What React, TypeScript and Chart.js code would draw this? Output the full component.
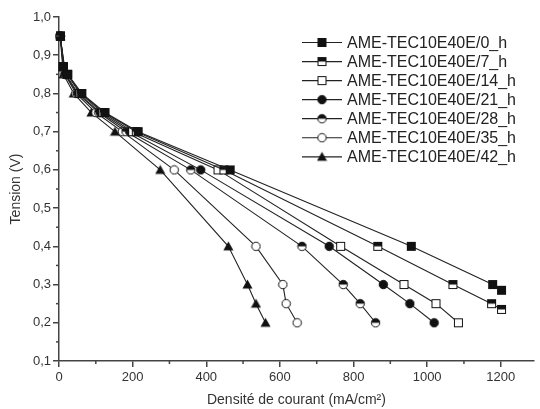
import React, { useEffect, useRef } from 'react';
import { Chart, registerables } from 'chart.js';

Chart.register(...registerables);

const FONT = '"Liberation Sans", Arial, Helvetica, sans-serif';

const seriesLabels = [
  'AME-TEC10E40E/0_h',
  'AME-TEC10E40E/7_h',
  'AME-TEC10E40E/14_h',
  'AME-TEC10E40E/21_h',
  'AME-TEC10E40E/28_h',
  'AME-TEC10E40E/35_h',
  'AME-TEC10E40E/42_h',
];

// Tension (V) and current density (mA/cm²) per series
const tension0 = [0.95, 0.87, 0.85, 0.8, 0.75, 0.7, 0.6, 0.4, 0.3, 0.285];
const current0 = [4, 12, 24, 62, 125, 215, 465, 957, 1178, 1202];

const tension7 = [0.95, 0.87, 0.85, 0.8, 0.75, 0.7, 0.6, 0.4, 0.3, 0.25, 0.235];
const current7 = [4, 12, 23, 60, 122, 210, 448, 866, 1070, 1175, 1202];

const tension14 = [0.95, 0.87, 0.85, 0.8, 0.75, 0.7, 0.6, 0.4, 0.3, 0.25, 0.2];
const current14 = [4, 11, 22, 57, 118, 200, 432, 765, 937, 1024, 1085];

const tension21 = [0.95, 0.85, 0.8, 0.75, 0.7, 0.6, 0.4, 0.3, 0.25, 0.2];
const current21 = [3, 18, 52, 112, 192, 385, 734, 881, 953, 1019];

const tension28 = [0.95, 0.85, 0.8, 0.75, 0.7, 0.6, 0.4, 0.3, 0.25, 0.2];
const current28 = [3, 17, 50, 108, 182, 358, 660, 772, 818, 860];

const tension35 = [0.95, 0.85, 0.8, 0.75, 0.7, 0.6, 0.4, 0.3, 0.25, 0.2];
const current35 = [3, 16, 46, 100, 172, 313, 535, 608, 617, 647];

const tension42 = [0.95, 0.85, 0.8, 0.75, 0.7, 0.6, 0.4, 0.3, 0.25, 0.2];
const current42 = [3, 12, 40, 88, 152, 275, 460, 512, 535, 561];

const seriesCurrents = [current0, current7, current14, current21, current28, current35, current42];
const seriesTensions = [tension0, tension7, tension14, tension21, tension28, tension35, tension42];

type MarkerKind = 'sqFill' | 'sqHalf' | 'sqOpen' | 'ciFill' | 'ciHalf' | 'ciOpen' | 'triFill';
const markerKinds: MarkerKind[] = ['sqFill', 'sqHalf', 'sqOpen', 'ciFill', 'ciHalf', 'ciOpen', 'triFill'];

const INK = '#111';

function makeMarker(kind: MarkerKind): HTMLCanvasElement {
  const size = 11;
  const c = document.createElement('canvas');
  c.width = size;
  c.height = size;
  const ctx = c.getContext('2d') as CanvasRenderingContext2D;
  const cx = size / 2;
  const cy = size / 2;
  ctx.lineWidth = 1;
  ctx.strokeStyle = INK;
  if (kind.startsWith('sq')) {
    const s = 8;
    const x0 = cx - s / 2;
    const y0 = cy - s / 2;
    ctx.fillStyle = '#fff';
    ctx.fillRect(x0, y0, s, s);
    ctx.fillStyle = INK;
    if (kind === 'sqFill') ctx.fillRect(x0, y0, s, s);
    if (kind === 'sqHalf') ctx.fillRect(x0, y0, s, s / 2);
    ctx.strokeRect(x0, y0, s, s);
  } else if (kind.startsWith('ci')) {
    const r = 4.2;
    ctx.beginPath();
    ctx.arc(cx, cy, r, 0, Math.PI * 2);
    ctx.fillStyle = kind === 'ciFill' ? INK : '#fff';
    ctx.fill();
    if (kind === 'ciHalf') {
      ctx.beginPath();
      ctx.arc(cx, cy, r, Math.PI, Math.PI * 2);
      ctx.closePath();
      ctx.fillStyle = INK;
      ctx.fill();
    }
    ctx.beginPath();
    ctx.arc(cx, cy, r, 0, Math.PI * 2);
    ctx.stroke();
  } else {
    ctx.beginPath();
    ctx.moveTo(cx, cy - 5);
    ctx.lineTo(cx + 5, cy + 4);
    ctx.lineTo(cx - 5, cy + 4);
    ctx.closePath();
    ctx.fillStyle = INK;
    ctx.fill();
  }
  return c;
}

export default function App() {
  const canvasRef = useRef<HTMLCanvasElement | null>(null);

  useEffect(() => {
    if (!canvasRef.current) return;
    const markers = markerKinds.map((k) => makeMarker(k));

    const datasets = seriesLabels.map((label, i) => ({
      label,
      data: seriesCurrents[i].map((x, j) => ({ x, y: seriesTensions[i][j] })),
      borderColor: '#222',
      borderWidth: 1.1,
      pointStyle: markers[i] as any,
      pointRadius: 5,
      tension: 0,
      fill: false,
      clip: false as any,
    }));

    const minorTicks = {
      id: 'minorTicks',
      afterDraw(chart: any) {
        const { ctx, chartArea } = chart;
        const xs = chart.scales.x;
        const ys = chart.scales.y;
        ctx.save();
        ctx.strokeStyle = '#444';
        ctx.lineWidth = 1.5;
        for (let v = 100; v <= 1200; v += 200) {
          const px = xs.getPixelForValue(v);
          ctx.beginPath();
          ctx.moveTo(px, chartArea.bottom);
          ctx.lineTo(px, chartArea.bottom + 3);
          ctx.stroke();
        }
        for (let k = 1; k <= 9; k++) {
          const v = 0.05 + k * 0.1;
          const py = ys.getPixelForValue(v);
          ctx.beginPath();
          ctx.moveTo(chartArea.left, py);
          ctx.lineTo(chartArea.left - 3, py);
          ctx.stroke();
        }
        ctx.restore();
      },
    };

    const customLegend = {
      id: 'customLegend',
      afterDraw(chart: any) {
        const { ctx } = chart;
        ctx.save();
        ctx.font = `16px ${FONT}`;
        ctx.textBaseline = 'middle';
        ctx.textAlign = 'left';
        seriesLabels.forEach((label, i) => {
          const y = 42.5 + i * 19.05;
          ctx.strokeStyle = '#222';
          ctx.lineWidth = 1.2;
          ctx.beginPath();
          ctx.moveTo(302, y);
          ctx.lineTo(342, y);
          ctx.stroke();
          ctx.drawImage(markers[i], 322 - 5.5, y - 5.5);
          ctx.fillStyle = '#222';
          ctx.fillText(label, 347, y + 1);
        });
        ctx.restore();
      },
    };

    const chart = new Chart(canvasRef.current, {
      type: 'line',
      data: { datasets: datasets as any },
      plugins: [minorTicks, customLegend],
      options: {
        animation: false,
        responsive: true,
        maintainAspectRatio: false,
        layout: { padding: { top: 17, right: 0, bottom: 0, left: 0 } },
        plugins: {
          legend: { display: false },
          tooltip: { enabled: false },
        },
        scales: {
          x: {
            type: 'linear',
            min: 0,
            max: 1290,
            ticks: {
              stepSize: 200,
              includeBounds: false,
              padding: 3,
              color: '#333',
              font: { size: 13, family: FONT },
              maxRotation: 0,
              autoSkip: false,
              callback: (v: any) => String(Math.round(Number(v))),
            },
            grid: {
              drawOnChartArea: false,
              drawTicks: true,
              tickLength: 6,
              color: '#444',
              lineWidth: 1.5,
            },
            border: { display: true, color: '#444', width: 1.5 },
            title: {
              display: true,
              text: 'Densité de courant (mA/cm²)',
              color: '#333',
              font: { size: 14, family: FONT },
              padding: { top: 0, bottom: 0 },
            },
            afterFit(scale: any) {
              scale.height = 48;
            },
          },
          y: {
            type: 'linear',
            min: 0.1,
            max: 1.0,
            ticks: {
              stepSize: 0.1,
              padding: 2,
              color: '#333',
              font: { size: 13, family: FONT },
              callback: (v: any) => Number(v).toFixed(1).replace('.', ','),
            },
            grid: {
              drawOnChartArea: false,
              drawTicks: true,
              tickLength: 6,
              color: '#444',
              lineWidth: 1.5,
            },
            border: { display: true, color: '#444', width: 1.5 },
            title: {
              display: true,
              text: 'Tension (V)',
              color: '#333',
              font: { size: 14, family: FONT },
              padding: { top: 8, bottom: 0 },
            },
            afterFit(scale: any) {
              scale.width = 59;
            },
          },
        },
      },
    });

    return () => chart.destroy();
  }, []);

  return (
    <div style={{ position: 'absolute', left: 0, top: 0, width: 540, height: 409 }}>
      <canvas ref={canvasRef} />
    </div>
  );
}
